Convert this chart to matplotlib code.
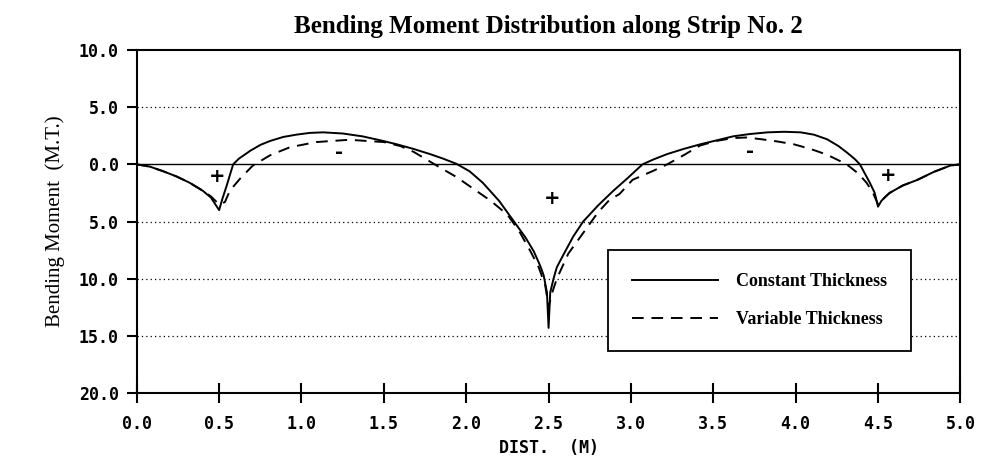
"""Bending moment distribution along strip no. 2 (constant vs variable thickness)."""
import matplotlib
matplotlib.use('Agg')
import matplotlib.pyplot as plt

# (x in m, moment in M.T.; sagging plotted down)
x_const = [0.00, 0.08, 0.16, 0.24, 0.32, 0.40, 0.45, 0.50, 0.52, 0.545,
           0.585, 0.62, 0.69, 0.75, 0.81, 0.89, 0.97, 1.05, 1.13, 1.25,
           1.37, 1.48, 1.58, 1.68, 1.78, 1.86, 1.94, 2.02, 2.10, 2.20,
           2.30, 2.36, 2.41, 2.45, 2.47, 2.49, 2.50, 2.51, 2.53, 2.55,
           2.59, 2.65, 2.71, 2.80, 2.89, 2.98, 3.07, 3.14, 3.22, 3.32,
           3.42, 3.52, 3.62, 3.72, 3.83, 3.93, 4.03, 4.11, 4.19, 4.26,
           4.31, 4.36, 4.39, 4.45, 4.48, 4.50, 4.52, 4.54, 4.57, 4.65,
           4.74, 4.84, 4.94, 5.00]
m_const = [0.0, -0.2, -0.6, -1.05, -1.6, -2.3, -2.9, -4.0, -3.0, -1.9,
           0.0, 0.5, 1.2, 1.7, 2.05, 2.4, 2.6, 2.75, 2.8, 2.7,
           2.45, 2.1, 1.75, 1.35, 0.9, 0.5, 0.05, -0.6, -1.6, -3.2,
           -5.2, -6.4, -7.6, -8.9, -9.7, -11.2, -14.3, -11.2, -10.0, -9.0,
           -7.9, -6.3, -5.0, -3.6, -2.35, -1.2, 0.0, 0.45, 0.9, 1.35,
           1.75, 2.1, 2.45, 2.65, 2.8, 2.85, 2.8, 2.6, 2.2, 1.6,
           1.05, 0.45, 0.0, -1.6, -2.5, -3.7, -3.2, -2.9, -2.5, -1.85,
           -1.35, -0.65, -0.1, 0.0]

x_var = [0.00, 0.08, 0.16, 0.24, 0.32, 0.40, 0.45, 0.50, 0.535, 0.565,
         0.63, 0.705, 0.81, 0.93, 1.09, 1.29, 1.50, 1.60, 1.68, 1.82,
         1.94, 2.04, 2.15, 2.25, 2.32, 2.39, 2.44, 2.48, 2.50, 2.52,
         2.55, 2.62, 2.73, 2.80, 2.87, 2.93, 3.01, 3.13, 3.22, 3.32,
         3.42, 3.52, 3.62, 3.70, 3.79, 3.89, 3.99, 4.09, 4.19, 4.31,
         4.38, 4.43, 4.47, 4.50, 4.52, 4.54, 4.57, 4.65, 4.74, 4.84,
         4.94, 5.00]
m_var = [0.0, -0.2, -0.6, -1.05, -1.6, -2.3, -2.8, -3.5, -3.3, -2.3,
         -1.2, -0.1, 0.8, 1.5, 1.95, 2.15, 1.95, 1.6, 1.1, -0.1,
         -1.1, -2.1, -3.2, -4.4, -5.8, -7.6, -9.0, -10.6, -12.5, -11.3,
         -10.0, -7.8, -5.6, -4.2, -3.1, -2.6, -1.35, -0.6, 0.0, 0.8,
         1.65, 2.05, 2.3, 2.35, 2.2, 2.0, 1.75, 1.35, 0.85, 0.0,
         -0.8, -1.6, -2.5, -3.5, -3.2, -2.9, -2.5, -1.85, -1.35, -0.65,
         -0.1, 0.0]

x_ticks = [0.0, 0.5, 1.0, 1.5, 2.0, 2.5, 3.0, 3.5, 4.0, 4.5, 5.0]
x_ticklabels = ['0.0', '0.5', '1.0', '1.5', '2.0', '2.5', '3.0', '3.5',
                '4.0', '4.5', '5.0']
y_ticks = [10, 5, 0, -5, -10, -15, -20]
y_ticklabels = ['10.0', '5.0', '0.0', '5.0', '10.0', '15.0', '20.0']

# sign marks written on the chart: (x, moment, sign)
signs = [(0.49, -1.05, '+'), (1.23, 1.05, '-'), (2.52, -3.0, '+'),
         (3.72, 1.15, '-'), (4.56, -1.0, '+')]

serif = 'Liberation Serif'
tickfont = dict(family='DejaVu Sans Mono', weight='bold', size=12)

fig = plt.figure(figsize=(9.84, 4.63), dpi=100)
ax = fig.add_axes([0.139, 0.151, 0.837, 0.741])

# horizontal grid: dotted, zero line solid
for yv in y_ticks[1:-1]:
    if yv == 0:
        ax.axhline(yv, color='black', lw=1.0, zorder=1)
    else:
        ax.axhline(yv, color='black', lw=0.9, ls=(0, (1, 2.5)), zorder=1)

ax.plot(x_const, m_const, color='black', lw=1.4, zorder=3,
        label='Constant Thickness')
ax.plot(x_var, m_var, color='black', lw=1.4, ls=(0, (6, 4)), zorder=3,
        label='Variable Thickness')

for xs, ys, s in signs:
    ax.text(xs, ys, s, ha='center', va='center', fontsize=14,
            fontweight='bold', family='DejaVu Sans')

ax.set_xlim(0, 5)
ax.set_ylim(-20, 10)
ax.set_xticks(x_ticks)
ax.set_xticklabels(x_ticklabels, fontdict=tickfont)
ax.set_yticks(y_ticks)
ax.set_yticklabels(y_ticklabels, fontdict=tickfont)
ax.tick_params(axis='x', direction='inout', length=14, width=1.5, pad=9)
ax.tick_params(axis='y', direction='out', length=7, width=1.5, pad=6)
for sp in ax.spines.values():
    sp.set_linewidth(1.5)

ax.set_xlabel('DIST.  (M)', fontdict=tickfont, labelpad=4)
ax.set_ylabel('Bending Moment  (M.T.)', family=serif, fontsize=15,
              labelpad=10)
ax.set_title('Bending Moment Distribution along Strip No. 2',
             family=serif, fontweight='bold', fontsize=18, pad=12)

leg = ax.legend(loc='center', bbox_to_anchor=(0.756, 0.27), frameon=True,
                fancybox=False, framealpha=1, edgecolor='black',
                borderpad=1.3, handlelength=4.8, handletextpad=1.0,
                labelspacing=1.15,
                prop=dict(family=serif, weight='bold', size=13))
leg.get_frame().set_linewidth(1.3)

fig.savefig('out.png', dpi=100)
